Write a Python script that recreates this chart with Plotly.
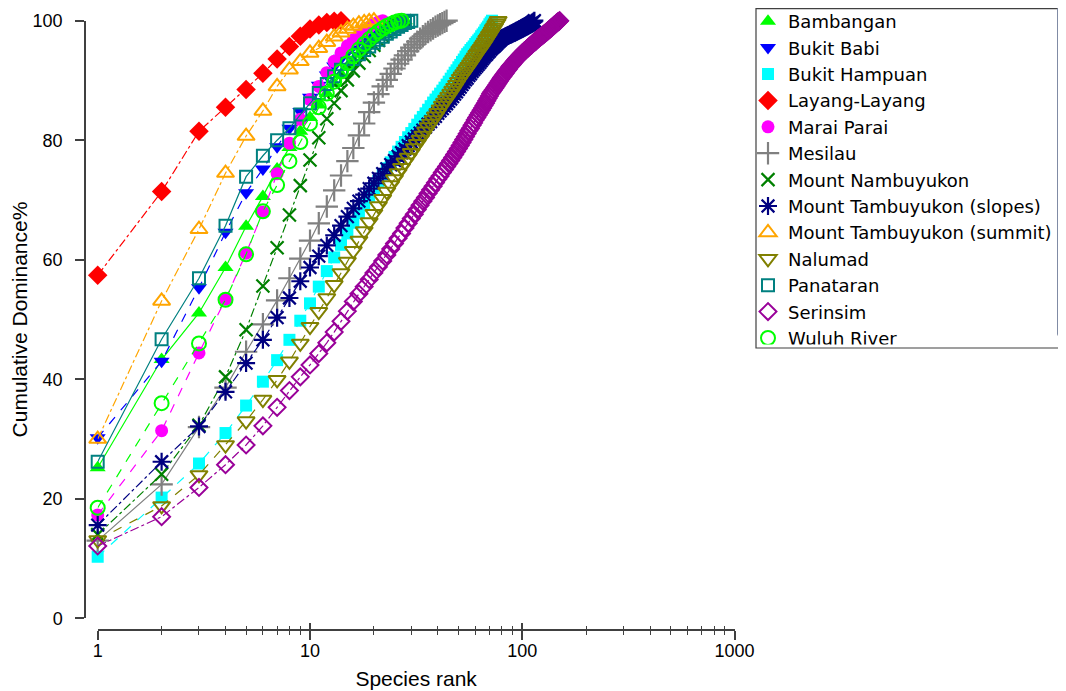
import plotly.graph_objects as go

# ---------------- data (cumulative dominance % by species rank) ----------------
site_names = ["Bambangan", "Bukit Babi", "Bukit Hampuan", "Layang-Layang", "Marai Parai",
              "Mesilau", "Mount Nambuyukon", "Mount Tambuyukon (slopes)",
              "Mount Tambuyukon (summit)", "Nalumad", "Panataran", "Serinsim", "Wuluh River"]

bambangan = [25.2, 43.3, 51.1, 58.7, 65.6, 70.6, 75.2, 78.8, 81.5, 83.8, 85.9, 87.8, 89.5, 91.0,
             92.3, 93.4, 94.4, 95.3, 96.1, 96.8, 97.4, 97.9, 98.4, 98.8, 99.2, 99.5, 99.8, 100.0]

bukit_babi = [30.2, 43.0, 55.3, 64.6, 71.2, 75.2, 78.9, 82.0, 84.8, 87.2, 89.2, 90.9, 92.4, 93.7,
              94.8, 95.8, 96.6, 97.3, 97.9, 98.4, 98.9, 99.3, 99.7, 100.0]

bukit_hampuan = [10.3, 20.2, 25.9, 31.0, 35.6, 39.6, 43.2, 46.6, 49.8, 52.7,
                 55.5, 58.1, 60.4, 62.5, 64.4, 66.2, 67.8, 69.3, 70.7, 72.0,
                 73.2, 74.3, 75.3, 76.3, 77.2, 78.1, 78.9, 79.7, 80.5, 81.2,
                 81.9, 82.6, 83.3, 83.9, 84.5, 85.1, 85.7, 86.3, 86.8, 87.3,
                 87.8, 88.3, 88.8, 89.3, 89.8, 90.3, 90.8, 91.3, 91.7, 92.2,
                 92.6, 93.1, 93.5, 94.0, 94.4, 94.7, 95.1, 95.4, 95.7, 96.1,
                 96.4, 96.7, 97.0, 97.4, 97.7, 98.0, 98.4, 98.7, 99.0, 99.4,
                 99.7, 100.0]

layang_layang = [57.4, 71.4, 81.5, 85.5, 88.5, 91.2, 93.6, 95.7, 97.4, 98.6, 99.3, 99.7, 99.9, 100.0]

marai_parai = [17.3, 31.4, 44.4, 53.4, 61.1, 68.0, 74.4, 79.5, 83.5, 86.8, 89.0, 91.3, 93.2, 94.6,
               95.8, 96.8, 97.6, 98.3, 98.9, 99.4, 99.8, 100.0]

mesilau = [13.0, 22.4, 32.0, 38.6, 44.6, 49.2, 53.2, 56.9, 60.2, 63.2,
           66.1, 68.9, 71.6, 74.1, 76.5, 78.7, 80.8, 82.8, 84.7, 86.3,
           87.7, 89.0, 90.1, 91.1, 92.0, 92.8, 93.5, 94.2, 94.9, 95.5,
           96.0, 96.5, 97.0, 97.4, 97.8, 98.1, 98.4, 98.7, 99.0, 99.2,
           99.4, 99.6, 99.8, 100.0]

nambuyukon = [14.0, 24.1, 32.3, 40.4, 48.3, 55.6, 62.0, 67.5, 72.4, 76.7, 80.4, 83.6, 86.2, 88.3,
              90.1, 91.6, 92.9, 94.0, 95.0, 95.9, 96.7, 97.4, 98.0, 98.5, 99.0, 99.4, 99.7, 100.0]

tambuyukon_slopes = [15.6, 26.2, 32.1, 37.9, 42.7, 46.6, 50.3, 53.6, 56.4, 58.7,
                     60.6, 62.4, 64.1, 65.7, 67.2, 68.6, 69.8, 70.9, 71.9, 72.8,
                     73.6, 74.4, 75.2, 75.9, 76.6, 77.3, 77.9, 78.5, 79.1, 79.7,
                     80.2, 80.7, 81.2, 81.7, 82.2, 82.7, 83.1, 83.6, 84.0, 84.5,
                     84.9, 85.3, 85.7, 86.1, 86.5, 86.9, 87.3, 87.7, 88.1, 88.5,
                     88.9, 89.3, 89.7, 90.1, 90.4, 90.8, 91.1, 91.5, 91.8, 92.1,
                     92.4, 92.7, 93.0, 93.3, 93.6, 93.9, 94.2, 94.4, 94.7, 94.9,
                     95.2, 95.4, 95.6, 95.8, 96.0, 96.2, 96.4, 96.6, 96.8, 97.0,
                     97.1, 97.2, 97.3, 97.35, 97.45, 97.55, 97.6, 97.7, 97.8, 97.9,
                     97.95, 98.05, 98.15, 98.2, 98.3, 98.4, 98.45, 98.55, 98.65, 98.7,
                     98.8, 98.9, 98.95, 99.05, 99.15, 99.2, 99.3, 99.4, 99.45, 99.55,
                     99.65, 99.75, 99.85, 100.0]

tambuyukon_summit = [30.0, 53.1, 65.1, 74.5, 80.7, 84.9, 89.0, 91.8, 93.2, 94.6,
                     95.4, 96.4, 97.3, 98.0, 98.6, 99.1, 99.5, 99.7, 99.9, 100.0]

nalumad = [13.1, 18.8, 24.0, 29.0, 33.0, 36.6, 39.9, 43.0, 46.0, 48.8,
           51.3, 53.6, 55.8, 57.8, 59.7, 61.5, 63.2, 64.8, 66.3, 67.7,
           69.0, 70.2, 71.4, 72.5, 73.5, 74.5, 75.4, 76.3, 77.1, 77.9,
           78.7, 79.4, 80.1, 80.8, 81.5, 82.2, 82.8, 83.4, 84.0, 84.6,
           85.2, 85.8, 86.3, 86.8, 87.3, 87.8, 88.3, 88.8, 89.3, 89.8,
           90.3, 90.7, 91.1, 91.5, 91.9, 92.3, 92.7, 93.1, 93.5, 93.9,
           94.3, 94.6, 95.0, 95.3, 95.7, 96.0, 96.4, 96.8, 97.1, 97.5,
           97.8, 98.2, 98.6, 98.9, 99.3, 99.6, 100.0]

panataran = [26.2, 46.7, 56.9, 65.7, 73.9, 77.4, 80.0, 82.0, 84.3, 86.2, 87.9, 89.4, 90.7, 91.8,
             92.8, 93.6, 94.4, 95.1, 95.7, 96.3, 96.8, 97.3, 97.8, 98.2, 98.6, 99.0, 99.3, 99.6,
             99.8, 100.0]

serinsim = [12.1, 17.0, 21.9, 25.7, 29.0, 32.2, 35.3, 38.1, 40.4, 42.4,
            44.3, 46.1, 47.9, 49.7, 51.4, 53.0, 54.3, 55.5, 56.7, 57.8,
            58.8, 59.8, 60.8, 61.8, 62.7, 63.6, 64.4, 65.3, 66.1, 66.9,
            67.6, 68.4, 69.1, 69.8, 70.4, 71.1, 71.7, 72.3, 72.9, 73.5,
            74.0, 74.6, 75.1, 75.6, 76.1, 76.6, 77.1, 77.6, 78.1, 78.6,
            79.1, 79.6, 80.1, 80.6, 81.1, 81.6, 82.0, 82.5, 82.9, 83.4,
            83.8, 84.2, 84.6, 85.0, 85.4, 85.8, 86.2, 86.6, 87.0, 87.4,
            87.8, 88.1, 88.4, 88.7, 89.0, 89.3, 89.6, 89.9, 90.2, 90.5,
            90.7, 91.0, 91.2, 91.5, 91.7, 91.9, 92.2, 92.4, 92.6, 92.8,
            93.0, 93.2, 93.4, 93.6, 93.8, 93.9, 94.1, 94.3, 94.4, 94.6,
            94.7, 94.9, 95.0, 95.1, 95.3, 95.4, 95.5, 95.7, 95.8, 95.9,
            96.0, 96.2, 96.3, 96.4, 96.5, 96.6, 96.8, 96.9, 97.0, 97.1,
            97.2, 97.3, 97.4, 97.5, 97.6, 97.7, 97.8, 97.9, 98.0, 98.1,
            98.2, 98.3, 98.4, 98.5, 98.6, 98.7, 98.8, 98.9, 99.0, 99.1,
            99.2, 99.3, 99.4, 99.5, 99.6, 99.7, 99.8, 99.85, 99.9, 100.0]

wuluh_river = [18.5, 36.0, 46.0, 53.3, 60.9, 68.1, 72.5, 76.5, 79.7, 82.8, 85.5, 87.8, 89.8, 91.5,
               92.9, 94.1, 95.2, 96.1, 96.9, 97.6, 98.2, 98.7, 99.1, 99.4, 99.7, 99.9, 100.0]

series_values = [bambangan, bukit_babi, bukit_hampuan, layang_layang, marai_parai, mesilau,
                 nambuyukon, tambuyukon_slopes, tambuyukon_summit, nalumad, panataran,
                 serinsim, wuluh_river]

x_tick_values = [1, 10, 100, 1000]
x_tick_labels = ["1", "10", "100", "1000"]
x_minor_values = [2, 3, 4, 5, 6, 7, 8, 9, 20, 30, 40, 50, 60, 70, 80, 90,
                  200, 300, 400, 500, 600, 700, 800, 900]
y_tick_values = [0, 20, 40, 60, 80, 100]

# ---------------- styles ----------------
colors = ["#00FF00", "#0000FF", "#00FFFF", "#FF0000", "#FF00FF", "#808080", "#008000",
          "#000080", "#FFA500", "#808000", "#008080", "#990099", "#00FF00"]
symbols = ["triangle-up", "triangle-down", "square", "diamond", "circle", "cross-thin-open",
           "x-thin-open", "asterisk-open", "triangle-up-open", "triangle-down-open",
           "square-open", "diamond-open", "circle-open"]
sizes = [14, 14, 12, 15, 13, 16, 13, 15, 15, 15, 12, 13, 14]
mline = [0, 0, 0, 0, 0, 2.2, 2.2, 2.2, 2, 2, 2, 2, 2]
dashes = ["solid", "dash", "dash", "dashdot", "dash", "solid", "dashdot", "dashdot",
          "dashdot", "dash", "solid", "dashdot", "dash"]

FONT = "Liberation Sans, Arial, sans-serif"
LEGEND_FONT = "DejaVu Sans, Liberation Sans, sans-serif"

# page body has an 8px margin; figure pixel = reference pixel - 8
OFF = 8
W, H = 1066 - OFF, 691 - OFF


def px_x(X):
    return (X - OFF) / W


def px_y(Y):
    return (H - (Y - OFF)) / H


fig = go.Figure()
n_series = len(site_names)
for i, (name, vals) in enumerate(zip(site_names, series_values)):
    ranks = list(range(1, len(vals) + 1))
    xa = "x2" if i == n_series - 1 else "x"
    fig.add_trace(go.Scatter(
        x=ranks, y=vals, mode="lines", xaxis=xa, yaxis="y",
        line=dict(color=colors[i], width=1.2, dash=dashes[i]),
        showlegend=False, hoverinfo="skip", cliponaxis=False))
    fig.add_trace(go.Scatter(
        x=ranks, y=vals, mode="markers", name=name, xaxis=xa, yaxis="y",
        marker=dict(symbol=symbols[i], size=sizes[i], color=colors[i],
                    line=dict(width=mline[i], color=colors[i])),
        cliponaxis=False))

axis_color = "#404040"
xdom = [px_x(97.7), px_x(734.6)]
xpos = px_y(630.0)
common_x = dict(type="log", range=[0, 3], domain=xdom, anchor="free", position=xpos,
                showgrid=False, zeroline=False)

fig.update_layout(
    width=W, height=H,
    margin=dict(l=0, r=0, t=0, b=0, autoexpand=False),
    paper_bgcolor="white", plot_bgcolor="white",
    font=dict(family=FONT, color="black", size=18),
    xaxis=dict(**common_x,
               showline=True, linecolor=axis_color, linewidth=1.5,
               ticks="outside", ticklen=9, tickwidth=1.5, tickcolor=axis_color,
               tickmode="array", tickvals=x_tick_values, ticktext=x_tick_labels,
               tickfont=dict(size=18, family=FONT, color="black"),
               ticklabelstandoff=-4,
               minor=dict(ticks="outside", ticklen=4, tickwidth=1.2, tickcolor=axis_color,
                          tickmode="array", tickvals=x_minor_values, showgrid=False),
               title=dict(text="Species rank", font=dict(size=21, family=FONT, color="black"),
                          standoff=10)),
    xaxis2=dict(**common_x, overlaying="x", side="bottom",
                showline=False, showticklabels=False,
                ticks="inside", ticklen=7, tickwidth=1.5, tickcolor=axis_color,
                tickmode="array", tickvals=x_tick_values,
                minor=dict(ticks="inside", ticklen=4, tickwidth=1.2, tickcolor=axis_color,
                           tickmode="array", tickvals=x_minor_values, showgrid=False)),
    yaxis=dict(range=[0, 100], domain=[px_y(618.3), px_y(20.7)],
               anchor="free", position=px_x(85.0),
               showgrid=False, zeroline=False,
               showline=True, linecolor=axis_color, linewidth=1.5,
               ticks="outside", ticklen=9, tickwidth=1.5, tickcolor=axis_color,
               tickmode="array", tickvals=y_tick_values,
               tickfont=dict(size=18, family=FONT, color="black"),
               ticklabelstandoff=9,
               title=dict(text="Cumulative Dominance%", font=dict(size=21, family=FONT, color="black"),
                          standoff=0)),
    legend=dict(x=px_x(748.0), y=px_y(3.0), xanchor="left", yanchor="top",
                bgcolor="rgba(0,0,0,0)", borderwidth=0,
                font=dict(size=18, family=LEGEND_FONT, color="black"),
                traceorder="normal", itemsizing="trace"),
    shapes=[dict(type="rect", xref="paper", yref="paper",
                 x0=px_x(756.0), x1=px_x(1064.5), y0=px_y(348.0), y1=px_y(8.7),
                 line=dict(color=axis_color, width=1.2), fillcolor="rgba(0,0,0,0)",
                 layer="below")],
)

fig.write_html("out.html")
